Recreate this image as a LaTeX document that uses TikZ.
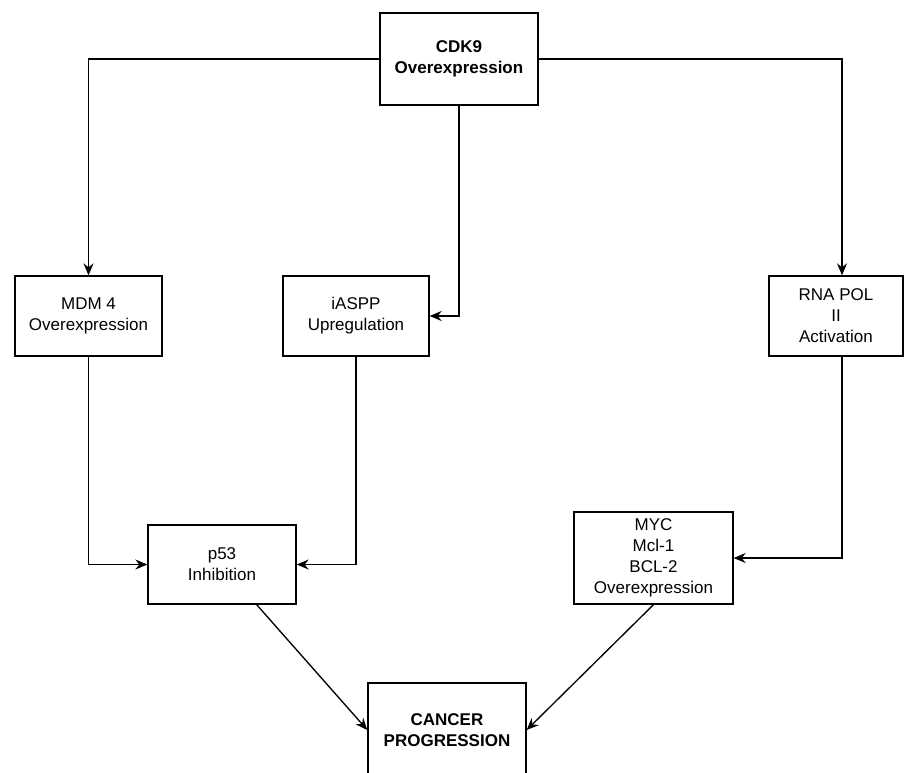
\documentclass[tikz,border=0pt]{standalone}
\usepackage{fontspec}
\setmainfont{Liberation Sans}
\usetikzlibrary{arrows.meta}
\begin{document}
\begin{tikzpicture}[x=0.75pt, y=-0.75pt, line width=1pt,
    box/.style={draw, rectangle, align=center, inner sep=2pt, font=\fontsize{12.75}{15.75}\selectfont},
    arr/.style={-{Stealth[length=9pt,width=7.5pt,inset=3pt]}}]
       \useasboundingbox (0, 0) rectangle (907, 772);
       \node[box, minimum width=118.5pt, minimum height=69pt, font=\fontsize{12.75}{15.75}\selectfont\bfseries] (cdk9) at (459, 59) {CDK9\\Overexpression};
       \node[box, minimum width=110.25pt, minimum height=60pt] (mdm4) at (88.5, 316) {MDM 4\\Overexpression};
       \node[box, minimum width=109.5pt, minimum height=60pt] (iaspp) at (356, 316) {iASPP\\Upregulation};
       \node[box, minimum width=100.5pt, minimum height=60pt] (rna) at (836, 316) {RNA POL\\II\\Activation};
       \node[box, minimum width=111pt, minimum height=59.25pt] (p53) at (222, 564.5) {p53\\Inhibition};
       \node[box, minimum width=119.25pt, minimum height=69pt] (myc) at (653.5, 558) {MYC\\Mcl-1\\BCL-2\\Overexpression};
       \node[box, minimum width=118.5pt, minimum height=70.5pt, font=\fontsize{12.75}{15.75}\selectfont\bfseries] (cancer) at (447, 730) {CANCER\\PROGRESSION};

       \draw[arr] (cdk9.west) -| (mdm4.north);
       \draw[arr] (cdk9.east) -| ([xshift=4.5pt]rna.north);
       \draw[arr] (cdk9.south) |- (iaspp.east);
       \draw[arr] (mdm4.south) |- (p53.west);
       \draw[arr] (iaspp.south) |- (p53.east);
       \draw[arr] ([xshift=4.5pt]rna.south) |- (myc.east);
       \draw[arr] ([xshift=26pt]p53.south) -- (cancer.west);
       \draw[arr] (myc.south) -- (cancer.east);
     \end{tikzpicture}
\end{document}
